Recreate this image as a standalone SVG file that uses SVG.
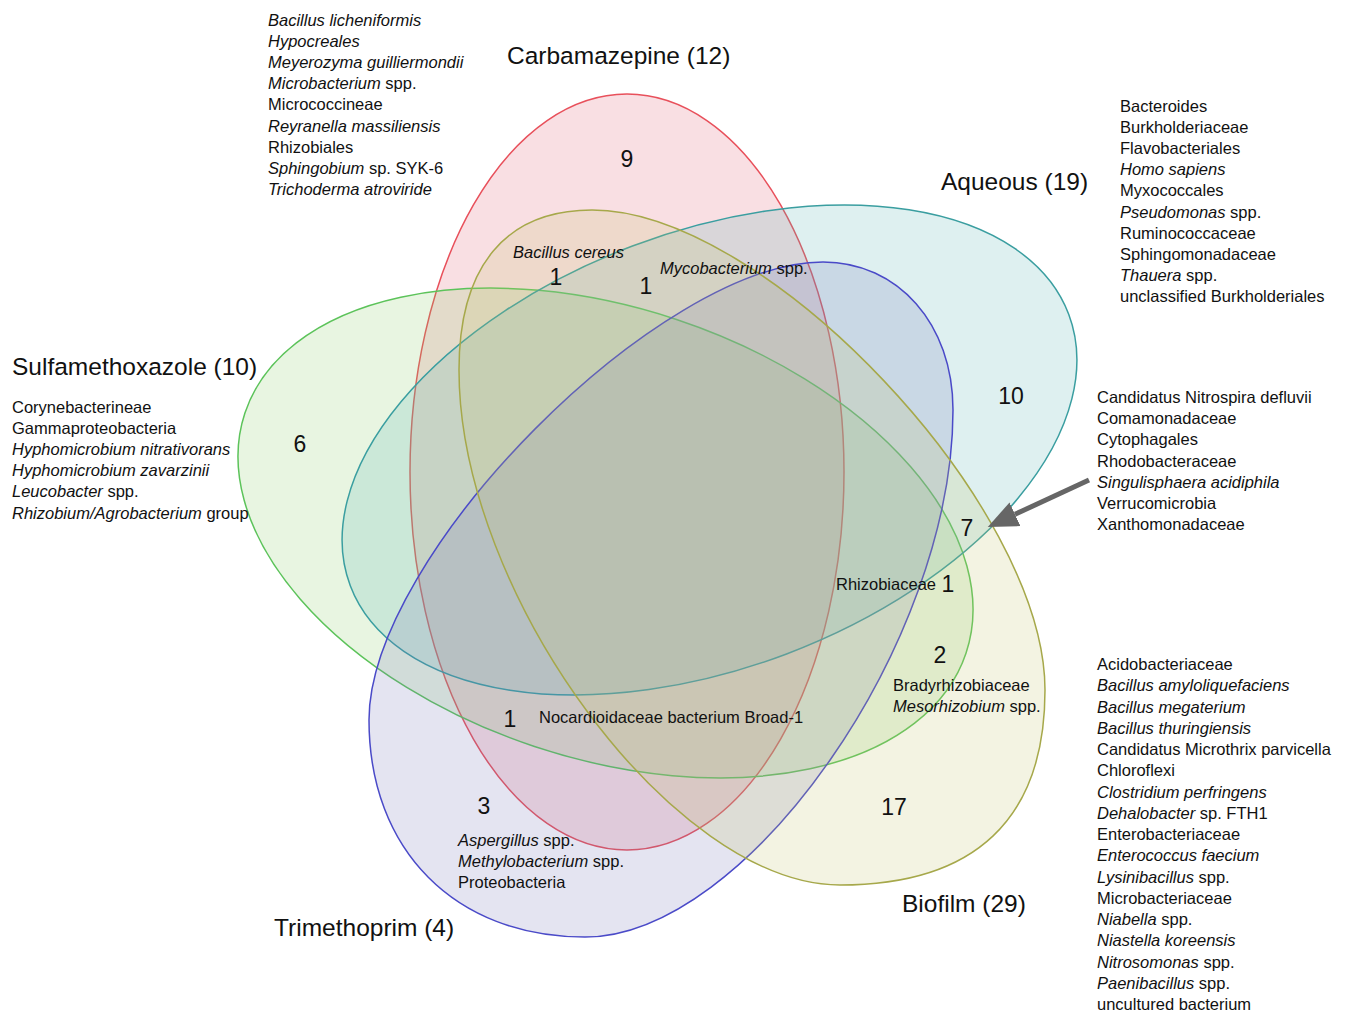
<svg xmlns="http://www.w3.org/2000/svg" width="1347" height="1013" viewBox="0 0 1347 1013">
<style>
text{font-family:"Liberation Sans",Arial,sans-serif;fill:#111}
.t{font-size:24.5px}
.b{font-size:16.5px}
.n{font-size:23px;text-anchor:middle}
.i{font-style:italic}
.set{stroke-width:1.5}
</style>
<defs>
<marker id="ah" markerUnits="userSpaceOnUse" markerWidth="31" markerHeight="27" refX="0" refY="13" orient="auto"><path d="M0,0 L30,13 L0,26 Z" fill="#666"/></marker>
</defs>
<rect width="1347" height="1013" fill="#fff"/>
<g id="sets">
<g id="carbamazepine"><ellipse class="set" cx="627" cy="472" rx="217" ry="378" fill="#e15f73" fill-opacity="0.2" stroke="#e8505b"/></g>
<g id="sulfamethoxazole"><ellipse class="set" cx="605.5" cy="533" rx="380" ry="225" transform="rotate(18.4 605.5 533)" fill="#8ccc6a" fill-opacity="0.2" stroke="#5cc35a"/></g>
<g id="aqueous"><ellipse class="set" cx="709.5" cy="450" rx="384" ry="218" transform="rotate(-20.7 709.5 450)" fill="#5ab4b4" fill-opacity="0.2" stroke="#3a9ea0"/></g>
<g id="trimethoprim"><path class="set" d="M369,720 C369,555 660,262 823,262 C898,262 953,324 953,410 C953,642 747,937 585,937 C455,937 369,850 369,720 Z" fill="#7878b9" fill-opacity="0.2" stroke="#4a4ac8"/></g>
<g id="biofilm"><path class="set" d="M459,370 C459,266 506,210 592,210 C766,210 1045,505 1045,690 C1045,819 975,885 840,885 C674,885 459,594 459,370 Z" fill="#c3c36e" fill-opacity="0.2" stroke="#a6a84a"/></g>
</g>
<g id="connectors">
<line x1="1089" y1="480" x2="1015" y2="514.3" stroke="#666" stroke-width="5" marker-end="url(#ah)"/>
</g>
<g id="titles">
<text class="t" x="507" y="64">Carbamazepine (12)</text>
<text class="t" x="941" y="190">Aqueous (19)</text>
<text class="t" x="12" y="375">Sulfamethoxazole (10)</text>
<text class="t" x="274" y="936">Trimethoprim (4)</text>
<text class="t" x="902" y="912">Biofilm (29)</text>
</g>
<g id="list-carbamazepine">
<text x="268" y="26" class="b i">Bacillus licheniformis</text>
<text x="268" y="47.1" class="b i">Hypocreales</text>
<text x="268" y="68.2" class="b i">Meyerozyma guilliermondii</text>
<text x="268" y="89.3" class="b"><tspan class="i">Microbacterium</tspan> spp.</text>
<text x="268" y="110.4" class="b">Micrococcineae</text>
<text x="268" y="131.5" class="b i">Reyranella massiliensis</text>
<text x="268" y="152.6" class="b">Rhizobiales</text>
<text x="268" y="173.7" class="b"><tspan class="i">Sphingobium</tspan> sp. SYK-6</text>
<text x="268" y="194.8" class="b i">Trichoderma atroviride</text>
</g>
<g id="list-aqueous">
<text x="1120" y="112" class="b">Bacteroides</text>
<text x="1120" y="133.1" class="b">Burkholderiaceae</text>
<text x="1120" y="154.2" class="b">Flavobacteriales</text>
<text x="1120" y="175.3" class="b i">Homo sapiens</text>
<text x="1120" y="196.4" class="b">Myxococcales</text>
<text x="1120" y="217.5" class="b"><tspan class="i">Pseudomonas</tspan> spp.</text>
<text x="1120" y="238.6" class="b">Ruminococcaceae</text>
<text x="1120" y="259.7" class="b">Sphingomonadaceae</text>
<text x="1120" y="280.8" class="b"><tspan class="i">Thauera</tspan> spp.</text>
<text x="1120" y="301.9" class="b">unclassified Burkholderiales</text>
</g>
<g id="list-sulfamethoxazole">
<text x="12" y="412.5" class="b">Corynebacterineae</text>
<text x="12" y="433.7" class="b">Gammaproteobacteria</text>
<text x="12" y="454.9" class="b i">Hyphomicrobium nitrativorans</text>
<text x="12" y="476.1" class="b i">Hyphomicrobium zavarzinii</text>
<text x="12" y="497.3" class="b"><tspan class="i">Leucobacter</tspan> spp.</text>
<text x="12" y="518.5" class="b"><tspan class="i">Rhizobium/Agrobacterium</tspan> group</text>
</g>
<g id="list-shared7">
<text x="1097" y="403" class="b">Candidatus Nitrospira defluvii</text>
<text x="1097" y="424.2" class="b">Comamonadaceae</text>
<text x="1097" y="445.4" class="b">Cytophagales</text>
<text x="1097" y="466.6" class="b">Rhodobacteraceae</text>
<text x="1097" y="487.8" class="b i">Singulisphaera acidiphila</text>
<text x="1097" y="509" class="b">Verrucomicrobia</text>
<text x="1097" y="530.2" class="b">Xanthomonadaceae</text>
</g>
<g id="list-biofilm">
<text x="1097" y="670" class="b">Acidobacteriaceae</text>
<text x="1097" y="691.25" class="b i">Bacillus amyloliquefaciens</text>
<text x="1097" y="712.5" class="b i">Bacillus megaterium</text>
<text x="1097" y="733.75" class="b i">Bacillus thuringiensis</text>
<text x="1097" y="755" class="b">Candidatus Microthrix parvicella</text>
<text x="1097" y="776.25" class="b">Chloroflexi</text>
<text x="1097" y="797.5" class="b i">Clostridium perfringens</text>
<text x="1097" y="818.75" class="b"><tspan class="i">Dehalobacter</tspan> sp. FTH1</text>
<text x="1097" y="840" class="b">Enterobacteriaceae</text>
<text x="1097" y="861.25" class="b i">Enterococcus faecium</text>
<text x="1097" y="882.5" class="b"><tspan class="i">Lysinibacillus</tspan> spp.</text>
<text x="1097" y="903.75" class="b">Microbacteriaceae</text>
<text x="1097" y="925" class="b"><tspan class="i">Niabella</tspan> spp.</text>
<text x="1097" y="946.25" class="b i">Niastella koreensis</text>
<text x="1097" y="967.5" class="b"><tspan class="i">Nitrosomonas</tspan> spp.</text>
<text x="1097" y="988.75" class="b"><tspan class="i">Paenibacillus</tspan> spp.</text>
<text x="1097" y="1010" class="b">uncultured bacterium</text>
</g>
<g id="region-labels">
<text class="n" x="627" y="167">9</text>
<text x="513" y="258" class="b i">Bacillus cereus</text>
<text class="n" x="556" y="285">1</text>
<text class="n" x="646" y="294">1</text>
<text x="660" y="274" class="b"><tspan class="i">Mycobacterium</tspan> spp.</text>
<text class="n" x="1011" y="404">10</text>
<text class="n" x="300" y="452">6</text>
<text class="n" x="967" y="536">7</text>
<text x="836" y="590" class="b">Rhizobiaceae</text>
<text class="n" x="948" y="592">1</text>
<text class="n" x="940" y="663">2</text>
<text x="893" y="691" class="b">Bradyrhizobiaceae</text>
<text x="893" y="712" class="b"><tspan class="i">Mesorhizobium</tspan> spp.</text>
<text class="n" x="510" y="727">1</text>
<text x="539" y="723" class="b">Nocardioidaceae bacterium Broad-1</text>
<text class="n" x="894" y="815">17</text>
<text class="n" x="484" y="814">3</text>
<text x="458" y="846" class="b"><tspan class="i">Aspergillus</tspan> spp.</text>
<text x="458" y="867" class="b"><tspan class="i">Methylobacterium</tspan> spp.</text>
<text x="458" y="888" class="b">Proteobacteria</text>
</g>
</svg>
